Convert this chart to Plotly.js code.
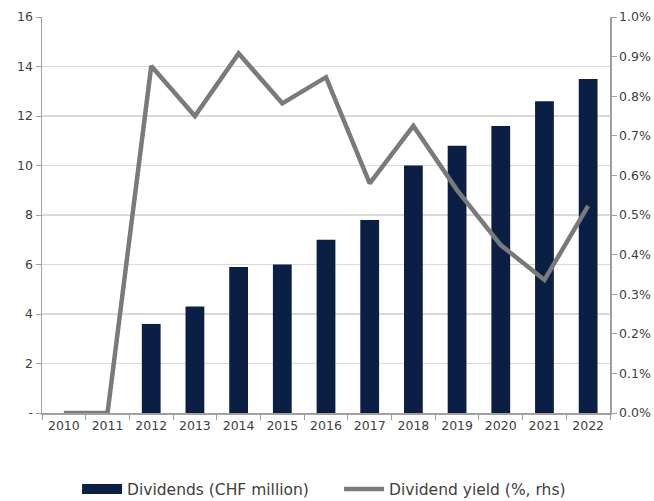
<!DOCTYPE html>
<html><head><meta charset="utf-8">
<script src="https://cdn.plot.ly/plotly-3.0.1.min.js"></script>
<style>body{margin:0;background:#fff}#c{width:654px;height:501px}</style>
</head><body><div id="c"></div>
<script>
const years = ['2010','2011','2012','2013','2014','2015','2016','2017','2018','2019','2020','2021','2022'];
const dividends = [0,0,3.6,4.3,5.9,6.0,7.0,7.8,10.0,10.8,11.6,12.6,13.5];
const yieldPct = [0,0,0.876,0.75,0.908,0.782,0.848,0.58,0.725,0.563,0.424,0.336,0.523];
const leftTickVals = [0,2,4,6,8,10,12,14,16];
const leftTickText = ['-','2','4','6','8','10','12','14','16'];
const rightTickVals = [0,0.1,0.2,0.3,0.4,0.5,0.6,0.7,0.8,0.9,1.0];
const rightTickText = rightTickVals.map(v => v.toFixed(1) + '%');

const navy = '#0b1f45';
const font = {family: 'DejaVu Sans, sans-serif', size: 12.5, color: '#404040'};
const data = [
  {type: 'bar', x: years, y: dividends, name: 'Dividends (CHF million)',
   marker: {color: navy}, width: 0.43, yaxis: 'y', showlegend: false},
  {type: 'scatter', mode: 'lines', x: [years[0]], y: [null], name: 'Dividends (CHF million)',
   line: {color: navy, width: 10}, yaxis: 'y', hoverinfo: 'skip'},
  {type: 'scatter', mode: 'lines', x: years, y: yieldPct, name: 'Dividend yield (%, rhs)',
   line: {color: '#7a7a7a', width: 4.5}, yaxis: 'y2'}
];
const layout = {
  width: 654, height: 501,
  margin: {l: 42, r: 44, t: 17, b: 88, autoexpand: false},
  paper_bgcolor: '#fff', plot_bgcolor: '#fff',
  font: font,
  showlegend: true,
  legend: {orientation: 'h', x: 0.523, xanchor: 'center', y: -0.15, yanchor: 'top',
           entrywidth: 207,
           font: {family: 'DejaVu Sans, sans-serif', size: 15.5, color: '#404040'}, itemwidth: 40, traceorder: 'normal'},
  xaxis: {type: 'category', showline: true, linecolor: '#a0a0a0', linewidth: 1.5,
          ticks: 'outside', tickson: 'boundaries', ticklen: 5, tickcolor: '#a0a0a0',
          showgrid: false, tickfont: font, zeroline: false},
  yaxis: {range: [0, 16], tickvals: leftTickVals, ticktext: leftTickText,
          showline: true, linecolor: '#a0a0a0', linewidth: 1.5, ticks: 'outside', ticklen: 5,
          tickcolor: '#a0a0a0', showgrid: true, gridcolor: '#d9d9d9', gridwidth: 1.3,
          zeroline: false, tickfont: font},
  yaxis2: {range: [0, 1.0], tickvals: rightTickVals, ticktext: rightTickText,
           overlaying: 'y', side: 'right', showline: true, linecolor: '#a0a0a0', linewidth: 1.5,
           ticks: 'outside', ticklen: 5, tickcolor: '#a0a0a0', showgrid: false, zeroline: false, tickfont: font}
};
Plotly.newPlot('c', data, layout, {displayModeBar: false, staticPlot: true});
</script></body></html>
